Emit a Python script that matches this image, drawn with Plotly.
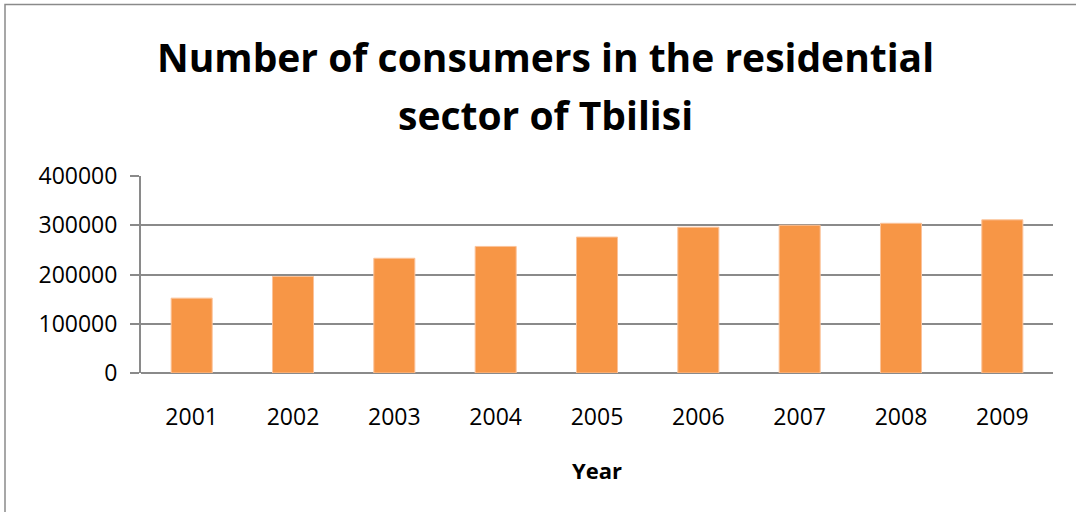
import plotly.graph_objects as go

years = ["2001", "2002", "2003", "2004", "2005", "2006", "2007", "2008", "2009"]
consumers = [152000, 196000, 233000, 257000, 276000, 296000, 300000, 304000, 311000]
y_ticks = [0, 100000, 200000, 300000, 400000]

W, H = 1076, 512
L, R, T, B = 141, 1053, 176, 373.5

fig = go.Figure()
fig.add_trace(go.Bar(
    x=years, y=consumers,
    marker=dict(color="#F79646", line=dict(color="#FBC39A", width=1)),
    hoverinfo="x+y",
))

title_font = dict(family="Open Sans", size=39, color="black")
fig.update_layout(
    width=W, height=H,
    margin=dict(l=L, r=W - R, t=T, b=H - B, pad=0),
    paper_bgcolor="white", plot_bgcolor="white",
    showlegend=False,
    bargap=0.595,
    font=dict(family="Open Sans", color="black"),
    annotations=[
        dict(text="<b>Number of consumers in the residential</b>", xref="paper", yref="paper",
             x=(545 - L) / (R - L), y=(B - 56) / (B - T), xanchor="center", yanchor="middle",
             showarrow=False, font=title_font),
        dict(text="<b>sector of Tbilisi</b>", xref="paper", yref="paper",
             x=(545 - L) / (R - L), y=(B - 114) / (B - T), xanchor="center", yanchor="middle",
             showarrow=False, font=title_font),
    ],
    shapes=[
        dict(type="rect", xref="paper", yref="paper",
             x0=(5 - L) / (R - L), x1=(W + 20 - L) / (R - L),
             y0=(B - (H + 20)) / (B - T), y1=(B - 4) / (B - T),
             line=dict(color="#8a8a8a", width=1.5), layer="below"),
    ],
)
fig.update_xaxes(
    showgrid=False, showline=False, ticks="",
    tickfont=dict(size=23, family="Open Sans"), ticklabelstandoff=28,
    title=dict(text="<b>Year</b>", font=dict(size=22, family="Open Sans"), standoff=32),
)
fig.update_yaxes(
    range=[0, 400000], tickvals=y_ticks, ticktext=[str(v) for v in y_ticks],
    showgrid=True, gridcolor="#8a8a8a", gridwidth=2,
    showline=True, linecolor="#8a8a8a", linewidth=2,
    ticks="outside", ticklen=9, tickcolor="#8a8a8a", tickwidth=2,
    tickfont=dict(size=23, family="Open Sans"), ticklabelstandoff=8,
    zeroline=True, zerolinecolor="#8a8a8a", zerolinewidth=2,
)

fig.write_html("out.html", config={"displayModeBar": False},
               post_script="document.body.style.margin='0';")
